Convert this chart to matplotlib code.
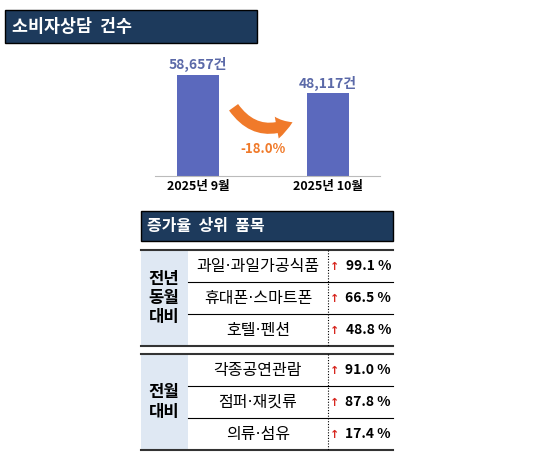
import matplotlib.pyplot as plt
from matplotlib.patches import Rectangle, FancyArrowPatch

plt.rcParams['font.family'] = ['Noto Sans CJK KR', 'DejaVu Sans']

months = ["2025년 9월", "2025년 10월"]
counts = [58657, 48117]
change_label = "-18.0%"

groups = ["전년\n동월\n대비", "전월\n대비"]
items = [["과일·과일가공식품", "휴대폰·스마트폰", "호텔·펜션"],
         ["각종공연관람", "점퍼·재킷류", "의류·섬유"]]
rates = [[99.1, 66.5, 48.8], [91.0, 87.8, 17.4]]

NAVY = "#1d3a5c"
BAR = "#5b69bd"
ORANGE = "#f07a2a"

fig = plt.figure(figsize=(5.49, 4.53), dpi=100)
bg = fig.add_axes([0, 0, 1, 1])
bg.set_xlim(0, 549)
bg.set_ylim(453, 0)
bg.axis("off")

# title boxes
bg.add_patch(Rectangle((5, 10), 252, 33, facecolor=NAVY, edgecolor="black", lw=1))
bg.text(12, 27, "소비자상담  건수", color="white", fontsize=12.5, fontweight="bold", va="center")
bg.add_patch(Rectangle((141, 211), 252, 30, facecolor=NAVY, edgecolor="black", lw=1))
bg.text(147, 226, "증가율  상위  품목", color="white", fontsize=11.5, fontweight="bold", va="center")

# bar chart
W, H = 549, 453
ax = fig.add_axes([155 / W, 1 - 176 / H, 225 / W, 121 / H])
ax.patch.set_alpha(0)
x = [0, 1]
ax.bar(x, counts, width=0.32, color=BAR)
ax.set_xlim(-0.33, 1.4)
ax.set_ylim(0, 70300)
for xi, c in zip(x, counts):
    ax.text(xi, c + 1500, f"{c:,}건", ha="center", va="bottom", color="#5b69a8",
            fontsize=10, fontweight="bold")
ax.set_xticks(x)
ax.set_xticklabels(months, fontsize=9, fontweight="bold")
ax.tick_params(length=0, pad=3)
for s in ["top", "left", "right"]:
    ax.spines[s].set_visible(False)
ax.spines["bottom"].set_color("#bbbbbb")
ax.set_yticks([])

ax.add_patch(FancyArrowPatch((232, 105), (295, 121), connectionstyle="arc3,rad=0.45",
                             arrowstyle="simple,head_width=16,head_length=12,tail_width=8",
                             color=ORANGE, lw=0, transform=bg.transData, zorder=5))
bg.text(263, 149, change_label, color=ORANGE, fontsize=9.5, fontweight="bold", ha="center", va="center")

# table
tops = [250, 354]
rh = 32
for g, top in enumerate(tops):
    bottom = top + 3 * rh
    bg.add_patch(Rectangle((141, top), 47, 3 * rh, facecolor="#dfe8f3", lw=0))
    bg.text(164, top + 1.5 * rh, groups[g], ha="center", va="center", fontsize=12,
            fontweight="bold", linespacing=1.1)
    bg.plot([141, 393], [top, top], color="#333333", lw=1.5)
    bg.plot([141, 393], [bottom, bottom], color="#333333", lw=1.5)
    for k in (1, 2):
        bg.plot([188, 393], [top + k * rh] * 2, color="black", lw=0.8)
    bg.plot([328, 328], [top, bottom], color="black", lw=0.8, ls=(0, (1, 1.5)))
    for r in range(3):
        yc = top + (r + 0.5) * rh
        bg.text(258, yc, items[g][r], ha="center", va="center", fontsize=11.5,
                family=["DejaVu Sans", "Noto Sans CJK KR"])
        bg.text(335, yc + 1, "↑", ha="center", va="center", fontsize=8, color="#d7261e",
                fontweight="bold", family=["DejaVu Sans"])
        bg.text(391, yc, f"{rates[g][r]:.1f} %", ha="right", va="center", fontsize=10,
                fontweight="bold")

fig.savefig("out.png", dpi=100)
